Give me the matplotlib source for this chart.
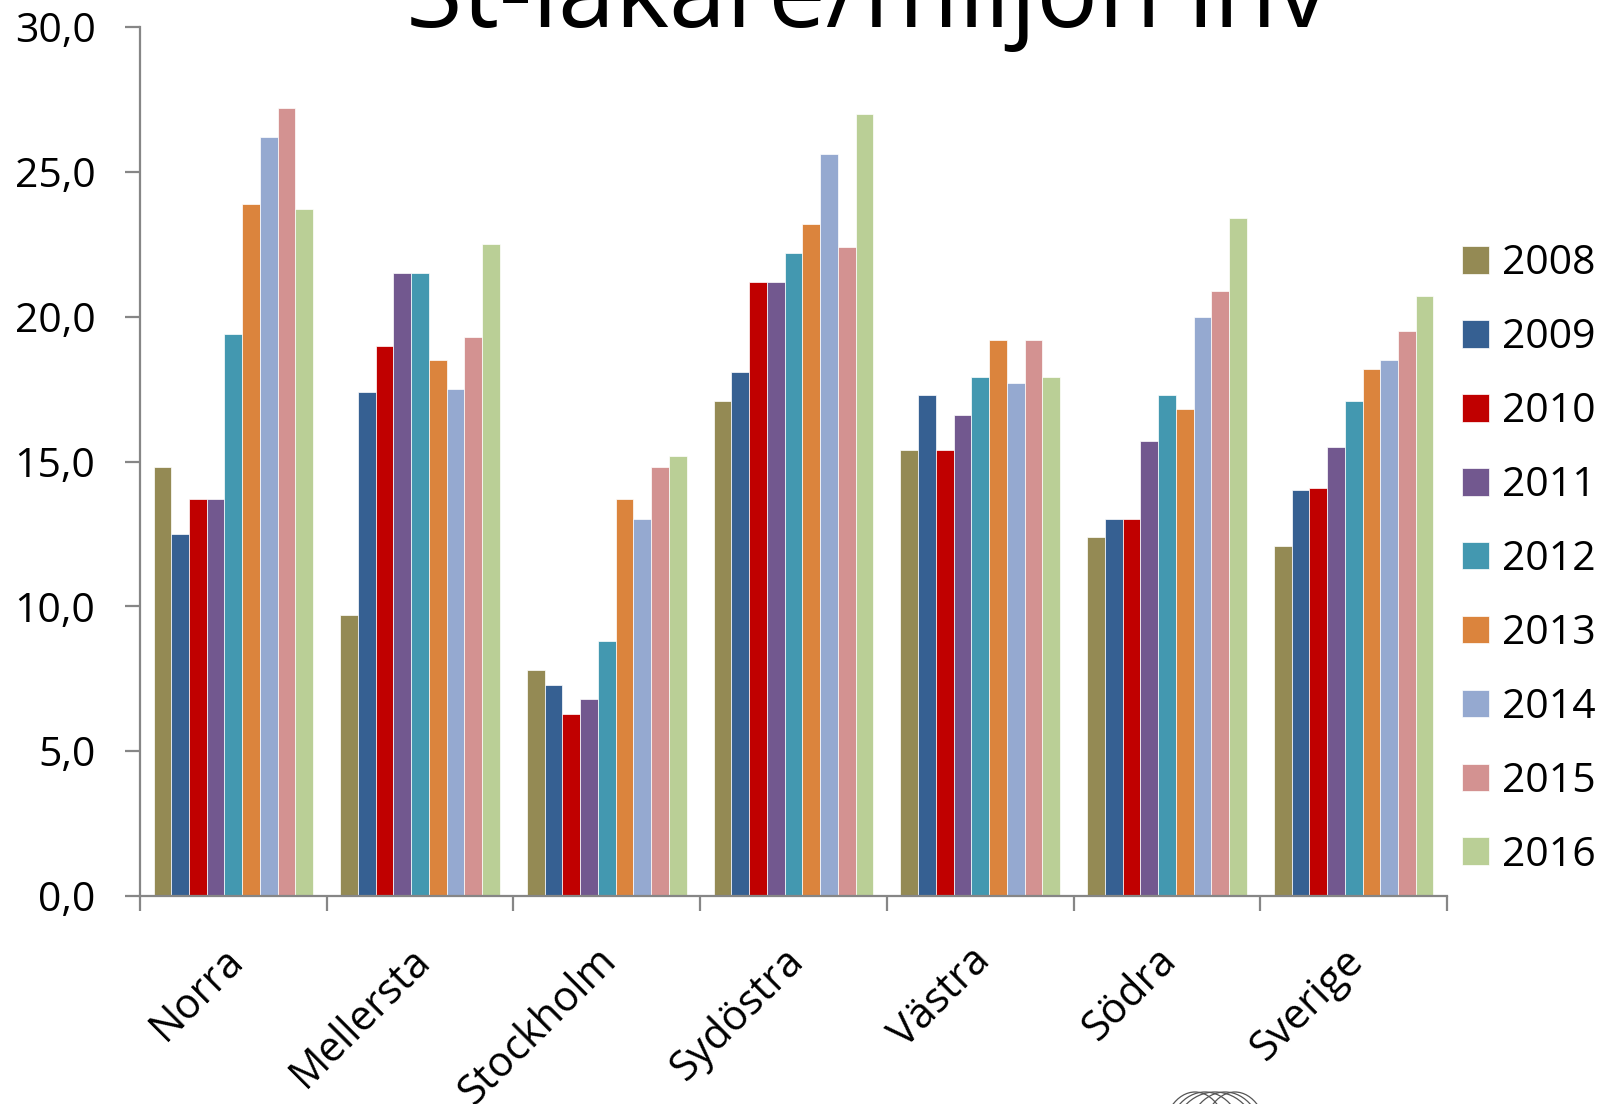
import matplotlib
matplotlib.use("Agg")
import matplotlib.pyplot as plt
import matplotlib.transforms as mtransforms
from matplotlib.patches import Ellipse
import numpy as np

# ---------------- data ----------------
regions = ["Norra", "Mellersta", "Stockholm", "Sydöstra", "Västra", "Södra", "Sverige"]
years = ["2008", "2009", "2010", "2011", "2012", "2013", "2014", "2015", "2016"]
v2008 = [14.8, 9.7, 7.8, 17.1, 15.4, 12.4, 12.1]
v2009 = [12.5, 17.4, 7.3, 18.1, 17.3, 13.0, 14.0]
v2010 = [13.7, 19.0, 6.3, 21.2, 15.4, 13.0, 14.1]
v2011 = [13.7, 21.5, 6.8, 21.2, 16.6, 15.7, 15.5]
v2012 = [19.4, 21.5, 8.8, 22.2, 17.9, 17.3, 17.1]
v2013 = [23.9, 18.5, 13.7, 23.2, 19.2, 16.8, 18.2]
v2014 = [26.2, 17.5, 13.0, 25.6, 17.7, 20.0, 18.5]
v2015 = [27.2, 19.3, 14.8, 22.4, 19.2, 20.9, 19.5]
v2016 = [23.7, 22.5, 15.2, 27.0, 17.9, 23.4, 20.7]
series = [v2008, v2009, v2010, v2011, v2012, v2013, v2014, v2015, v2016]
colors = ["#948A54", "#366092", "#C00000", "#72588F", "#4398B0",
          "#DB843D", "#95A9D0", "#D39291", "#BACF96"]
yticks = [0, 5, 10, 15, 20, 25, 30]
title = "St-läkare/miljon inv"

# ---------------- figure ----------------
plt.rcParams["font.family"] = ["Open Sans", "DejaVu Sans"]
W, H = 1608, 1104
fig = plt.figure(figsize=(W / 100, H / 100), dpi=100)
ax = fig.add_axes([140 / W, 1 - 896 / H, (1447 - 140) / W, (896 - 27) / H])

n = len(series)
x = np.arange(len(regions))
group_frac = 0.855
bw = group_frac / n
for i, (vals, col, yr) in enumerate(zip(series, colors, years)):
    ax.bar(x - group_frac / 2 + bw * (i + 0.5), vals, width=bw, color=col,
           edgecolor="white", linewidth=0.5, label=yr)

ax.set_xlim(-0.5, len(regions) - 0.5)
ax.set_ylim(0, 30)

gray = "#868686"
for s in ["top", "right"]:
    ax.spines[s].set_visible(False)
for s in ["left", "bottom"]:
    ax.spines[s].set_color(gray)
    ax.spines[s].set_linewidth(1.6)

ax.set_yticks(yticks)
ax.set_yticklabels([f"{v:.1f}".replace(".", ",") for v in yticks], fontsize=29.5)
ax.tick_params(axis="y", direction="out", length=11, width=1.6, color=gray, pad=21)

ax.set_xticks(x)
ax.set_xticklabels(regions, fontsize=30, rotation=45, ha="right", va="center",
                   rotation_mode="anchor")
ax.tick_params(axis="x", which="major", length=0, pad=42)
ax.set_xticks(np.arange(len(regions) + 1) - 0.5, minor=True)
ax.tick_params(axis="x", which="minor", direction="out", length=11, width=1.6, color=gray)
off = mtransforms.ScaledTranslation(4 / 100, 0, fig.dpi_scale_trans)
for lab in ax.get_xticklabels():
    lab.set_transform(lab.get_transform() + off)

leg = fig.legend(loc="upper left", bbox_to_anchor=(1462 / W, 1 - 244 / H),
                 bbox_transform=fig.transFigure, frameon=False, fontsize=29.5,
                 handlelength=0.66, handleheight=0.66, handletextpad=0.32,
                 labelspacing=0.815, borderpad=0, borderaxespad=0)

fig.text(867 / W, 1 - 27 / H, title, fontsize=74, ha="center", va="baseline")

# small logo fragment at bottom right
for dx, w in [(-20, 66), (-10, 76), (0, 86), (10, 76), (20, 66)]:
    e = Ellipse(((1215 + dx) / W, 1 - (1092 + 48) / H), w / W, 96 / H,
                transform=fig.transFigure, fill=False, edgecolor="#555555",
                linewidth=0.9)
    fig.add_artist(e)

fig.savefig("out.png", dpi=100)
